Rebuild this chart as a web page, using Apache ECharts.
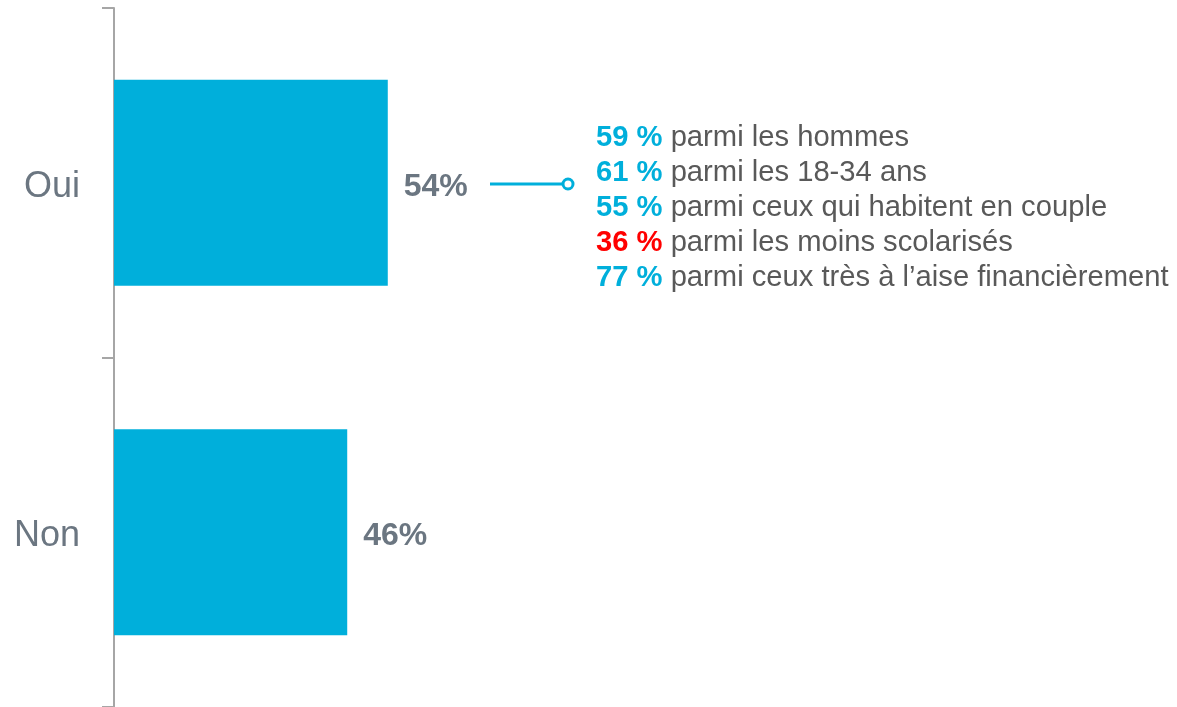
<!DOCTYPE html>
<html>
<head>
<meta charset="utf-8">
<script src="https://cdn.jsdelivr.net/npm/echarts@6/dist/echarts.min.js"></script>
<style>
  html, body { margin: 0; padding: 0; background: #fff; }
  #chart { width: 1177px; height: 707px; }
</style>
</head>
<body>
<div id="chart"></div>
<script>
// Chart data
const categories = ['Oui', 'Non'];
const values = [54, 46];

// Breakdown shown next to "Oui"
const detailPct = [59, 61, 55, 36, 77];
const detailText = [
    'parmi les hommes',
    'parmi les 18-34 ans',
    'parmi ceux qui habitent en couple',
    'parmi les moins scolarisés',
    'parmi ceux très à l’aise financièrement'
];
const detailLow = [false, false, false, true, false]; // highlighted in red

const blue = '#00afdb';
const grey = '#6b7681';

const chart = echarts.init(document.getElementById('chart'));

// Build the rich text block for the breakdown
const detailLines = detailPct.map((p, i) => {
    const style = detailLow[i] ? 'low' : 'high';
    return `{${style}|${p} %}{txt| ${detailText[i]}}`;
}).join('\n');

chart.setOption({
    animation: false,
    textStyle: { fontFamily: 'Liberation Sans, Arial, sans-serif' },
    grid: { left: 114, top: 8, width: 507, bottom: 0 },
    xAxis: {
        type: 'value',
        min: 0,
        max: 100,
        show: false
    },
    yAxis: {
        type: 'category',
        data: categories,
        inverse: true,
        axisLine: { lineStyle: { color: '#a6a6a6', width: 2 } },
        axisTick: { show: true, length: 12, lineStyle: { color: '#a6a6a6', width: 2 } },
        axisLabel: {
            margin: 34,
            formatter: (v) => `{cat|${v}}`,
            rich: {
                cat: { color: grey, fontSize: 36, padding: [8, 0, 0, 0] }
            }
        }
    },
    series: [{
        type: 'bar',
        data: values,
        barWidth: '59%',
        itemStyle: { color: blue },
        label: {
            show: true,
            position: 'right',
            distance: 16,
            offset: [0, 4],
            formatter: '{c}%',
            color: grey,
            fontSize: 32,
            fontWeight: 'bold'
        }
    }],
    graphic: [
        {
            // connector from the "Oui" value to the breakdown
            type: 'line',
            shape: { x1: 490, y1: 184, x2: 563, y2: 184 },
            style: { stroke: blue, lineWidth: 3 }
        },
        {
            type: 'circle',
            shape: { cx: 568, cy: 184, r: 5 },
            style: { stroke: blue, lineWidth: 3, fill: '#fff' }
        },
        {
            type: 'text',
            left: 596,
            top: 120,
            style: {
                text: detailLines,
                fontFamily: 'Liberation Sans, Arial, sans-serif',
                lineHeight: 35,
                rich: {
                    high: { fill: blue, fontSize: 29.2, fontWeight: 'bold', lineHeight: 35 },
                    low: { fill: '#ff0000', fontSize: 29.2, fontWeight: 'bold', lineHeight: 35 },
                    txt: { fill: '#595959', fontSize: 29.2, lineHeight: 35 }
                }
            }
        }
    ]
});
</script>
</body>
</html>
